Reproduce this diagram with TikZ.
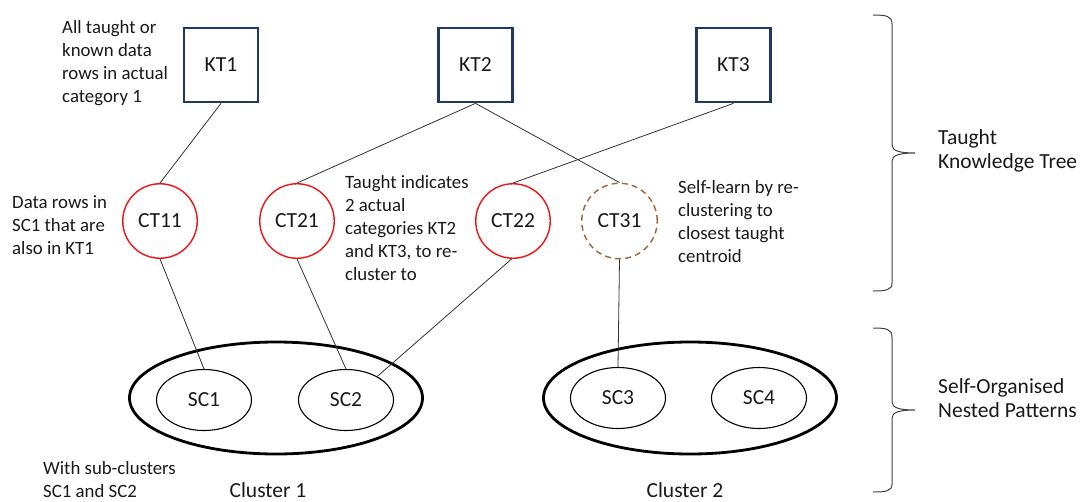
\documentclass[tikz,border=0pt]{standalone}
\usepackage{fontspec}
\setmainfont{Carlito}
\usetikzlibrary{shapes.geometric}
\definecolor{navy}{RGB}{32,56,100}
\definecolor{ctred}{RGB}{240,20,20}
\definecolor{ctbrown}{RGB}{160,100,55}
\definecolor{txt}{RGB}{25,25,25}
\newcommand{\bigfont}{\fontsize{21.5}{24.5}\selectfont}
\newcommand{\notefont}{\fontsize{18.8}{23}\selectfont}
\begin{document}
\begin{tikzpicture}[x=1pt,y=-1pt,
  every node/.style={font=\bigfont, text=txt},
  ktbox/.style={draw=navy, line width=2.7pt, minimum size=74pt, inner sep=0pt},
  ctcirc/.style={circle, draw=ctred, line width=1.4pt, minimum size=74.5pt, inner sep=0pt},
  ctdash/.style={circle, draw=ctbrown, line width=1.4pt, dash pattern=on 6pt off 4.2pt, minimum size=75.5pt, inner sep=0pt},
  bigell/.style={ellipse, draw=black, line width=2.8pt, minimum width=293pt, minimum height=112pt, inner sep=0pt},
  subell/.style={ellipse, draw=black, line width=1.1pt, minimum width=95pt, minimum height=61pt, inner sep=0pt},
  conn/.style={draw=black!80, line width=0.8pt},
  note/.style={align=left, anchor=north west, inner sep=0pt, font=\notefont},
  sidenote/.style={align=left, anchor=north west, inner sep=0pt, font=\bigfont},
  bracepath/.style={draw=black!75, line width=1pt}]
\useasboundingbox (0,0) rectangle (1082,501);

% Taught knowledge
\node[ktbox] (KT1) at (221,65) {KT1};
\node[ktbox] (KT2) at (475.5,65) {KT2};
\node[ktbox] (KT3) at (733.5,65) {KT3};

\node[ctcirc] (CT11) at (160,221) {CT11};
\node[ctcirc] (CT21) at (297,221) {CT21};
\node[ctcirc] (CT22) at (513,221) {CT22};
\node[ctdash] (CT31) at (619.5,221) {CT31};

% Clusters
\node[bigell] (C1) at (276,398) {};
\node[subell] (SC1) at (204,400) {SC1};
\node[subell] (SC2) at (346,400) {SC2};
\node[bigell] (C2) at (690,398) {};
\node[subell] (SC3) at (618,398) {SC3};
\node[subell] (SC4) at (759,398) {SC4};

% Connectors
\draw[conn] (KT1.south) -- (CT11.north);
\draw[conn] (KT2.south) -- (CT21.north);
\draw[conn] (KT2.south) -- (CT31.north);
\draw[conn] (KT3.south) -- (CT22.north);
\draw[conn] (CT11.south) -- (SC1.north);
\draw[conn] (CT21.south) -- (SC2.north);
\draw[conn] (CT22.268) -- (SC2.37);
\draw[conn] (CT31.south) -- (SC3.north);

% Notes (anchor = first-line strut top = baseline - 16.1)
\node[note] (n1) at (62,16.9) {\strut All taught or\\known data\\rows in actual\\category 1};
\node[note] (n2) at (12,191.9) {\strut Data rows in\\SC1 that are\\also in KT1};
\node[note] (n3) at (345,171.9) {\strut Taught indicates\\2 actual\\categories KT2\\and KT3, to re-\\cluster to};
\node[note] (n4) at (678,176.9) {\strut Self-learn by re-\\clustering to\\closest taught\\centroid};
\node[note] (n5) at (43,457.9) {\strut With sub-clusters\\SC1 and SC2};
\node[anchor=base, inner sep=0pt] (cl1) at (268,497) {Cluster 1};
\node[anchor=base, inner sep=0pt] (cl2) at (685,497) {Cluster 2};
\node[sidenote] (n6) at (938,126.85) {\strut Taught\\Knowledge Tree};
\node[sidenote] (n7) at (938,375.85) {\strut Self-Organised\\Nested Patterns};

% Braces
\draw[bracepath] (873,15) .. controls (886,15) and (892,16) .. (892,24) -- (892,145)
  .. controls (892,151) and (900,153) .. (915,153)
  .. controls (900,153) and (892,155) .. (892,161) -- (892,283)
  .. controls (892,290) and (886,291) .. (873,291);
\draw[bracepath] (873,328) .. controls (886,328) and (892,329) .. (892,337) -- (892,402)
  .. controls (892,408) and (900,410) .. (915,410)
  .. controls (900,410) and (892,412) .. (892,418) -- (892,484)
  .. controls (892,491) and (886,492) .. (873,492);
\end{tikzpicture}
\end{document}
